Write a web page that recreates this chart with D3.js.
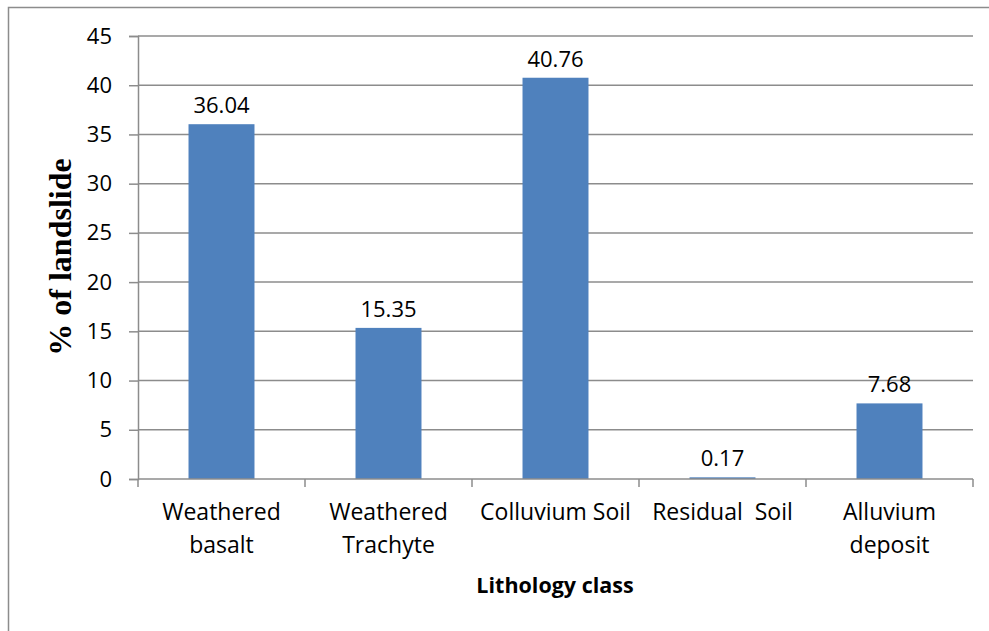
<!DOCTYPE html>
<html>
<head>
<meta charset="utf-8">
<script src="https://cdn.jsdelivr.net/npm/d3@7"></script>
<style>
  body { margin: 0; background: #fff; }
  .tick text { font-family: "Open Sans", Lato, sans-serif; }
</style>
</head>
<body>
<div class="chart"></div>
<script>
var svgWidth = 989;
var svgHeight = 631;

// chart data
var categories = ["Weathered basalt", "Weathered Trachyte", "Colluvium Soil", "Residual  Soil", "Alluvium deposit"];
var categoryLines = [["Weathered", "basalt"], ["Weathered", "Trachyte"], ["Colluvium Soil"], ["Residual  Soil"], ["Alluvium", "deposit"]];
var landslidePct = [36.04, 15.35, 40.76, 0.17, 7.68];
var yTicks = [0, 5, 10, 15, 20, 25, 30, 35, 40, 45];

var margin = { top: 36, right: 16, bottom: 152, left: 138 };
var width = svgWidth - margin.left - margin.right;
var height = svgHeight - margin.top - margin.bottom;

var svg = d3.select(".chart")
  .append("svg")
  .attr("width", svgWidth)
  .attr("height", svgHeight);

// outer frame (left and top edges visible)
svg.append("path")
  .attr("d", "M8.5,631 L8.5,7.5 L989,7.5")
  .attr("fill", "none")
  .attr("stroke", "#8c8c8c")
  .attr("stroke-width", 1.5);

var chartGroup = svg.append("g")
  .attr("transform", `translate(${margin.left}, ${margin.top})`);

var xScale = d3.scaleBand()
  .domain(categories)
  .range([0, width])
  .paddingInner(0.605)
  .paddingOuter(0.3025);

var xBoundary = d3.scaleLinear()
  .domain([0, categories.length])
  .range([0, width]);

var yScale = d3.scaleLinear()
  .domain([0, 45])
  .range([height, 0]);

// gridlines
chartGroup.append("g")
  .selectAll("line")
  .data(yTicks.filter(d => d > 0))
  .enter()
  .append("line")
  .attr("x1", 0)
  .attr("x2", width)
  .attr("y1", d => yScale(d))
  .attr("y2", d => yScale(d))
  .attr("stroke", "#8c8c8c")
  .attr("stroke-width", 1.5);

// y axis
var leftAxis = d3.axisLeft(yScale)
  .tickValues(yTicks)
  .tickSize(9)
  .tickPadding(17);

var yAxisG = chartGroup.append("g").call(leftAxis);
yAxisG.select(".domain").attr("stroke", "#8c8c8c").attr("stroke-width", 1.5);
yAxisG.selectAll(".tick line").attr("stroke", "#8c8c8c").attr("stroke-width", 1.5);
yAxisG.selectAll(".tick text")
  .attr("font-size", "22px")
  .attr("fill", "#000");

// bars
chartGroup.selectAll("rect.bar")
  .data(landslidePct)
  .enter()
  .append("rect")
  .attr("class", "bar")
  .attr("x", (d, i) => xScale(categories[i]))
  .attr("y", d => yScale(d))
  .attr("width", xScale.bandwidth())
  .attr("height", d => height - yScale(d))
  .attr("fill", "#4f81bd");

// x axis line and boundary ticks
chartGroup.append("line")
  .attr("x1", 0)
  .attr("x2", width)
  .attr("y1", height)
  .attr("y2", height)
  .attr("stroke", "#8c8c8c")
  .attr("stroke-width", 1.5);

chartGroup.append("g")
  .selectAll("line")
  .data(d3.range(categories.length + 1))
  .enter()
  .append("line")
  .attr("x1", d => xBoundary(d))
  .attr("x2", d => xBoundary(d))
  .attr("y1", height)
  .attr("y2", height + 8)
  .attr("stroke", "#8c8c8c")
  .attr("stroke-width", 1.5);

// category labels
var catLabels = chartGroup.append("g")
  .selectAll("text")
  .data(categoryLines)
  .enter()
  .append("text")
  .attr("x", (d, i) => xScale(categories[i]) + xScale.bandwidth() / 2)
  .attr("y", height + 41)
  .attr("text-anchor", "middle")
  .attr("font-family", "'Open Sans', Lato, sans-serif")
  .attr("font-size", "23px")
  .attr("fill", "#000")
  .style("white-space", "pre");

catLabels.selectAll("tspan")
  .data(d => d)
  .enter()
  .append("tspan")
  .attr("x", function() { return d3.select(this.parentNode).attr("x"); })
  .attr("dy", (d, i) => i === 0 ? 0 : 33)
  .text(d => d);

// value labels
chartGroup.selectAll("text.value")
  .data(landslidePct)
  .enter()
  .append("text")
  .attr("class", "value")
  .attr("x", (d, i) => xScale(categories[i]) + xScale.bandwidth() / 2)
  .attr("y", d => yScale(d) - 11)
  .attr("text-anchor", "middle")
  .attr("font-family", "'Open Sans', Lato, sans-serif")
  .attr("font-size", "22px")
  .attr("fill", "#000")
  .text(d => d.toFixed(2));

// axis titles
svg.append("text")
  .attr("transform", "translate(71, 257) rotate(-90)")
  .attr("text-anchor", "middle")
  .attr("font-family", "'Liberation Serif', 'Times New Roman', serif")
  .attr("font-weight", "bold")
  .attr("font-size", "32px")
  .attr("fill", "#000")
  .text("% of landslide");

svg.append("text")
  .attr("x", 555)
  .attr("y", 593)
  .attr("text-anchor", "middle")
  .attr("font-family", "'Open Sans', Lato, sans-serif")
  .attr("font-weight", "bold")
  .attr("font-size", "21.5px")
  .attr("fill", "#000")
  .text("Lithology class");
</script>
</body>
</html>
